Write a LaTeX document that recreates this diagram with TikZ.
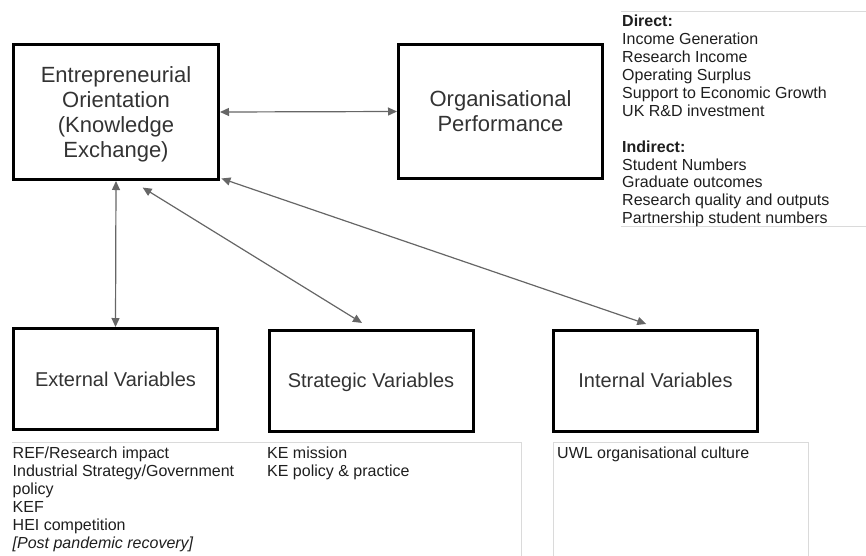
\documentclass[tikz,border=0pt]{standalone}
\usepackage{fontspec}
\setmainfont{Liberation Sans}
\usetikzlibrary{arrows.meta}
\definecolor{boxtext}{HTML}{333333}
\definecolor{listtext}{HTML}{1E1E1E}
\definecolor{linkgray}{HTML}{666666}
\definecolor{rulegray}{HTML}{DADADA}
\begin{document}
\begin{tikzpicture}[x=1pt,y=-1pt,
  conceptbox/.style={draw=black,line width=3pt,rectangle,inner sep=0pt,
    text=boxtext,align=center,text depth=0pt},
  topbox/.style={conceptbox,minimum width=205pt,minimum height=135pt,
    font=\fontsize{22}{25}\selectfont},
  varbox/.style={conceptbox,minimum width=204pt,minimum height=101pt,
    text height=14.4pt,font=\fontsize{20}{23}\selectfont},
  itemlist/.style={anchor=north west,inner sep=0pt,align=left,text=listtext,
    font=\fontsize{16}{17.9}\selectfont},
  link/.style={draw=linkgray,line width=1.2pt,
    {Triangle[length=9pt,width=8pt]}-{Triangle[length=9pt,width=8pt]}},
  tablerule/.style={draw=rulegray,line width=0.8pt}]
\useasboundingbox (0,0) rectangle (866,555);

% main concept boxes
\node[topbox] (eo) at (116,112) {Entrepreneurial\\Orientation\\(Knowledge\\Exchange)};
\node[topbox,minimum width=204pt,minimum height=134pt] (op) at (500.5,111.5) {Organisational\\Performance};
\node[varbox] (ext) at (115.5,379) {External Variables};
\node[varbox] (str) at (371,380.5) {Strategic Variables};
\node[varbox] (int) at (655.5,380.5) {Internal Variables};

% two-way links
\draw[link] (eo.east) -- (op.west);
\draw[link] (eo.south) -- (ext.north);
\draw[link,shorten <=12.5pt,shorten >=10.6pt] ([xshift=16pt]eo.south) -- (str.north);
\draw[link,shorten <=1.5pt,shorten >=14pt] ([yshift=3pt]eo.south east) -- ([xshift=4pt]int.north);

% performance measures table
\draw[tablerule] (621,11) -- (866,11);
\draw[tablerule] (621,226) -- (866,226);
\node[itemlist] (perf) at (622,15) {\textbf{Direct:}\\Income Generation\\Research Income\\Operating Surplus\\Support to Economic Growth\\UK R\&D investment\\\mbox{}\\\textbf{Indirect:}\\Student Numbers\\Graduate outcomes\\Research quality and outputs\\Partnership student numbers};

% variables tables
\draw[tablerule] (12,442) -- (521,442) -- (521,560);
\draw[tablerule] (553,560) -- (553,442) -- (808,442) -- (808,560);
\node[itemlist] (extlist) at (12.5,447) {REF/Research impact\\Industrial Strategy/Government\\policy\\KEF\\HEI competition\\\textit{[Post pandemic recovery]}};
\node[itemlist] (strlist) at (267,447) {KE mission\\KE policy \& practice};
\node[itemlist] (intlist) at (557,447) {UWL organisational culture};
\end{tikzpicture}
\end{document}
